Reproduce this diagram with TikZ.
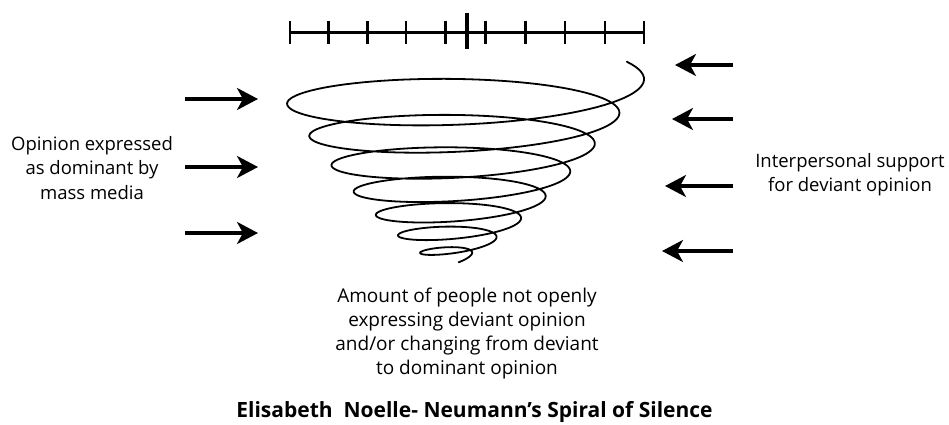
\documentclass[tikz,border=0pt]{standalone}
\usepackage{fontspec}
\setmainfont{Open Sans}
\usetikzlibrary{arrows.meta}
\begin{document}
\begin{tikzpicture}[x=1pt,y=-1pt,
  arr/.style={line width=3.2pt,-{Stealth[length=21pt,width=22pt,inset=6pt]}},
  lbl/.style={font=\fontsize{18.5}{24.5}\selectfont, align=center, inner sep=0pt},
  tick/.style={line width=2.5pt},
  ]
\useasboundingbox (0,0) rectangle (949,425);
% scale bar
\draw[line width=3pt] (289,33) -- (645,33);
\foreach \xx in {289.8,328.3,367.7,406,445.7,485.7,525.7,565,605,644.2}
  \draw[tick] (\xx,21) -- (\xx,44);
\draw[line width=4.2pt] (467.3,12.7) -- (467.3,48.7);
% spiral
\draw[line width=1.8pt, line join=round, line cap=round]
  plot[domain=-0.145:14.36, samples=700, variable=\t]
  ({460-0.6*\t + (184-11.7*\t)*cos(\t*180)},
   {83+17.57*\t-0.367*\t*\t + (0.16*(184-11.7*\t)+2+4*exp(-\t))*sin(\t*180) - 3*cos(\t*180)});
% left arrows
\coordinate (l1s) at (185,99);  \coordinate (l1e) at (258,99);
\coordinate (l2s) at (185,167); \coordinate (l2e) at (258,167);
\coordinate (l3s) at (185,233); \coordinate (l3e) at (258,233);
\draw[arr] (l1s) -- (l1e);
\draw[arr] (l2s) -- (l2e);
\draw[arr] (l3s) -- (l3e);
% right arrows
\coordinate (r1s) at (733,65);  \coordinate (r1e) at (675,65);
\coordinate (r2s) at (733,119); \coordinate (r2e) at (672,119);
\coordinate (r3s) at (733,186); \coordinate (r3e) at (665,186);
\coordinate (r4s) at (733,251); \coordinate (r4e) at (662,251);
\draw[arr] (r1s) -- (r1e);
\draw[arr] (r2s) -- (r2e);
\draw[arr] (r3s) -- (r3e);
\draw[arr] (r4s) -- (r4e);
% texts
\node[lbl] (media) at (92,168) {Opinion expressed\\as dominant by\\mass media};
\node[lbl] (support) at (850,174.5) {Interpersonal support\\for deviant opinion};
\node[lbl, font=\fontsize{19}{24}\selectfont] (amount) at (467,334) {Amount of people not openly\\expressing deviant opinion\\and/or changing from deviant\\to dominant opinion};
\node[font=\fontsize{21}{24}\selectfont\bfseries, inner sep=0pt] (title) at (474.5,412) {Elisabeth\ \ Noelle- Neumann’s Spiral of Silence};
\end{tikzpicture}
\end{document}
